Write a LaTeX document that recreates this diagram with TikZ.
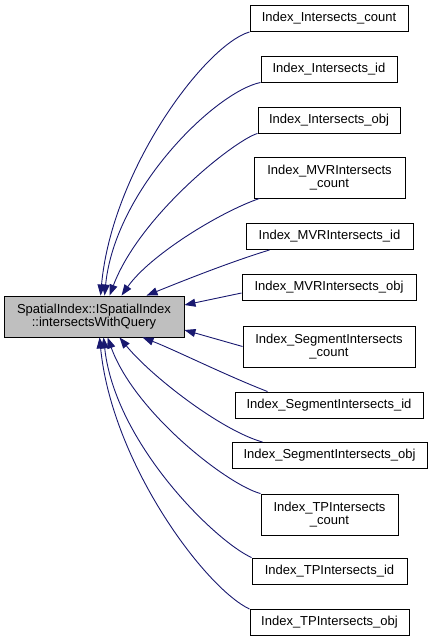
\documentclass[tikz,border=0pt]{standalone}
\usepackage{fontspec}
\setmainfont{Liberation Sans}
\usetikzlibrary{arrows.meta}
\definecolor{edgeblue}{HTML}{191970}
\definecolor{maingray}{HTML}{BFBFBF}
\tikzset{
  box/.style={draw=black, line width=0.9pt, fill=white, inner sep=0pt, align=center,
    font=\fontsize{13}{13.5}\selectfont, minimum height=26pt},
  tallbox/.style={box, minimum height=41pt},
  mainbox/.style={tallbox, fill=maingray},
  edge/.style={draw=edgeblue, line width=0.9pt, -{Triangle[length=11pt,width=8pt]}}
}
\begin{document}
\begin{tikzpicture}[x=1pt,y=-1pt]
\useasboundingbox (0,0) rectangle (432,643);
\node[mainbox, minimum width=180pt] (main) at (94,316.5) {SpatialIndex::ISpatialIndex\\::intersectsWithQuery};

\node[box, minimum width=158pt] (ic) at (329,18.5) {Index\_Intersects\_count};
\node[box, minimum width=136pt] (iid) at (329,69) {Index\_Intersects\_id};
\node[box, minimum width=142pt] (iob) at (329,120) {Index\_Intersects\_obj};
\node[tallbox, minimum width=151pt] (mc) at (329.5,177.5) {Index\_MVRIntersects\\\_count};
\node[box, minimum width=167pt] (mid) at (329.5,236.5) {Index\_MVRIntersects\_id};
\node[box, minimum width=174pt] (mob) at (329,287.5) {Index\_MVRIntersects\_obj};
\node[tallbox, minimum width=172pt] (sc) at (329,346.5) {Index\_SegmentIntersects\\\_count};
\node[box, minimum width=188pt] (sid) at (329,405) {Index\_SegmentIntersects\_id};
\node[box, minimum width=195pt] (sob) at (329.5,455.5) {Index\_SegmentIntersects\_obj};
\node[tallbox, minimum width=137pt] (tc) at (329.5,514.5) {Index\_TPIntersects\\\_count};
\node[box, minimum width=155pt] (tid) at (329.5,571) {Index\_TPIntersects\_id};
\node[box, minimum width=159pt] (tob) at (329.5,622.5) {Index\_TPIntersects\_obj};

% top edges
\path[edge] (ic.south west) .. controls (205,45) and (112,170) .. ([xshift=97pt]main.north west);
\path[edge] (iid.south west) .. controls (215,92) and (115,190) .. ([xshift=101pt]main.north west);
\path[edge] (iob.south west) .. controls (235,140) and (140,215) .. ([xshift=106pt]main.north west);
\path[edge] ([xshift=6pt]mc.south west) .. controls (220,212) and (150,255) .. ([xshift=118pt]main.north west);
\path[edge] ([xshift=24pt]mid.south west) .. controls (230,262) and (180,282) .. ([xshift=143pt]main.north west);
% side edges
\path[edge] ([yshift=-5.5pt]mob.west) -- ([yshift=11.5pt]main.east);
\path[edge] (sc.west) -- ([yshift=-13.5pt]main.east);
% bottom edges
\path[edge] ([xshift=33pt]sid.north west) .. controls (225,375) and (175,350) .. ([xshift=139pt]main.south west);
\path[edge] ([xshift=31pt]sob.north west) .. controls (220,430) and (150,375) .. ([xshift=116pt]main.south west);
\path[edge] (tc.north west) .. controls (228,485) and (135,413) .. ([xshift=104pt]main.south west);
\path[edge] (tid.north west) .. controls (215,541) and (115,443) .. ([xshift=100pt]main.south west);
\path[edge] (tob.north west) .. controls (205,588) and (112,463) .. ([xshift=96pt]main.south west);
\end{tikzpicture}
\end{document}
